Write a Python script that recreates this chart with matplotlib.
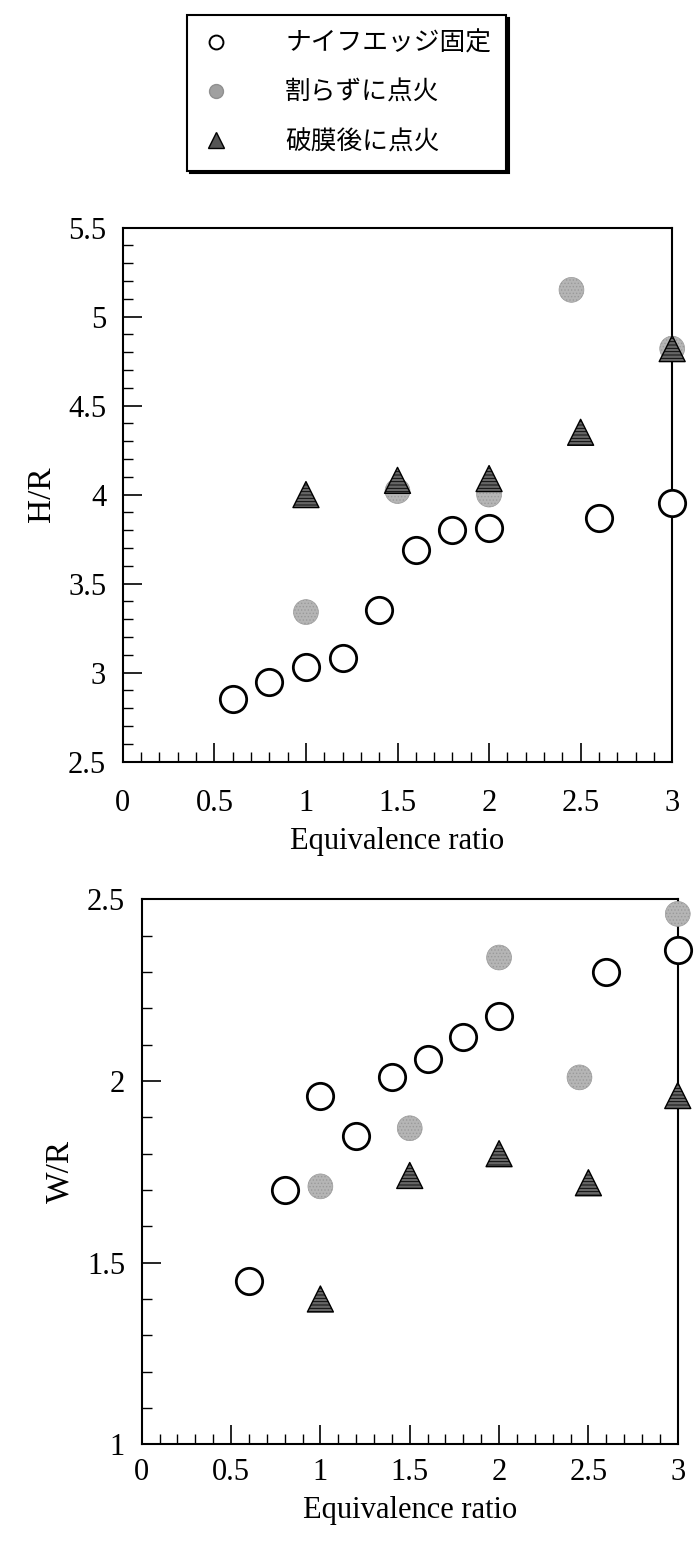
import numpy as np
import matplotlib.pyplot as plt
from matplotlib.lines import Line2D

plt.rcParams['font.family'] = ['Liberation Serif', 'Noto Sans CJK JP']
plt.rcParams['hatch.linewidth'] = 0.6

labels = ['ナイフエッジ固定', '割らずに点火', '破膜後に点火']

# H/R
knife_x = [0.6, 0.8, 1.0, 1.2, 1.4, 1.6, 1.8, 2.0, 2.6, 3.0]
knife_h = [2.85, 2.95, 3.03, 3.08, 3.35, 3.69, 3.80, 3.81, 3.87, 3.95]
nobreak_x = [1.0, 1.5, 2.0, 2.45, 3.0]
nobreak_h = [3.34, 4.02, 4.00, 5.15, 4.82]
broken_x = [1.0, 1.5, 2.0, 2.5, 3.0]
broken_h = [4.00, 4.08, 4.09, 4.35, 4.82]

# W/R
knife_w = [1.45, 1.70, 1.96, 1.85, 2.01, 2.06, 2.12, 2.18, 2.30, 2.36]
nobreak_w = [1.71, 1.87, 2.34, 2.01, 2.46]
broken_w = [1.40, 1.74, 1.80, 1.72, 1.96]

fig = plt.figure(figsize=(6.98, 15.48), dpi=100)
ax1 = fig.add_axes([0.176, 0.508, 0.787, 0.345])
ax2 = fig.add_axes([0.203, 0.067, 0.768, 0.352])


def draw(ax, hk, hn, hb, ylim, ylabel, xpad):
    ax.scatter(knife_x, hk, s=360, facecolor='white', edgecolor='black',
               linewidth=2.0, zorder=3, clip_on=False)
    ax.scatter(nobreak_x, hn, s=320, facecolor='#b5b5b5', edgecolor='#9a9a9a',
               hatch='.....', linewidth=0.5, zorder=3, clip_on=False)
    ax.scatter(broken_x, hb, marker='^', s=350, facecolor='#666666',
               edgecolor='black', hatch='-----', linewidth=1.0, zorder=4, clip_on=False)
    ax.set_xlim(0, 3)
    ax.set_ylim(*ylim)
    ax.set_xticks(np.arange(0, 3.01, 0.5))
    ax.set_xticklabels(['0', '0.5', '1', '1.5', '2', '2.5', '3'])
    ax.set_xticks(np.arange(0, 3.01, 0.1), minor=True)
    ax.set_yticks(np.arange(ylim[0], ylim[1] + 0.01, 0.5))
    ax.set_yticks(np.arange(ylim[0], ylim[1] + 0.01, 0.1), minor=True)
    ax.yaxis.set_major_formatter(plt.FuncFormatter(lambda v, p: ('%g' % v)))
    ax.tick_params(which='both', direction='in', top=False, right=False)
    ax.tick_params(which='major', length=14, width=1.2, labelsize=22, pad=12)
    ax.tick_params(axis='x', which='major', pad=xpad)
    ax.tick_params(which='minor', length=7, width=1.0)
    for s in ax.spines.values():
        s.set_linewidth(1.5)
    ax.set_xlabel('Equivalence ratio', fontsize=22, labelpad=6)
    ax.set_ylabel(ylabel, fontsize=24, labelpad=8)


draw(ax1, knife_h, nobreak_h, broken_h, (2.5, 5.5), 'H/R', 20)
draw(ax2, knife_w, nobreak_w, broken_w, (1.0, 2.5), 'W/R', 10)

handles = [
    Line2D([], [], marker='o', ls='', markersize=10, markerfacecolor='white',
           markeredgecolor='black', markeredgewidth=1.4),
    Line2D([], [], marker='o', ls='', markersize=10, markerfacecolor='#a0a0a0',
           markeredgecolor='#909090'),
    Line2D([], [], marker='^', ls='', markersize=11, markerfacecolor='#555555',
           markeredgecolor='black'),
]
leg = fig.legend(handles, labels, loc='upper center', bbox_to_anchor=(0.497, 0.99),
                 frameon=True, fancybox=False, shadow={'color': 'black', 'alpha': 1},
                 prop={'family': ['Noto Sans CJK JP'], 'size': 18.5},
                 borderpad=0.6, labelspacing=0.9, handletextpad=2.2,
                 handlelength=1.0, borderaxespad=0)
leg.get_frame().set_edgecolor('black')
leg.get_frame().set_linewidth(1.5)

fig.savefig('out.png', dpi=100)
